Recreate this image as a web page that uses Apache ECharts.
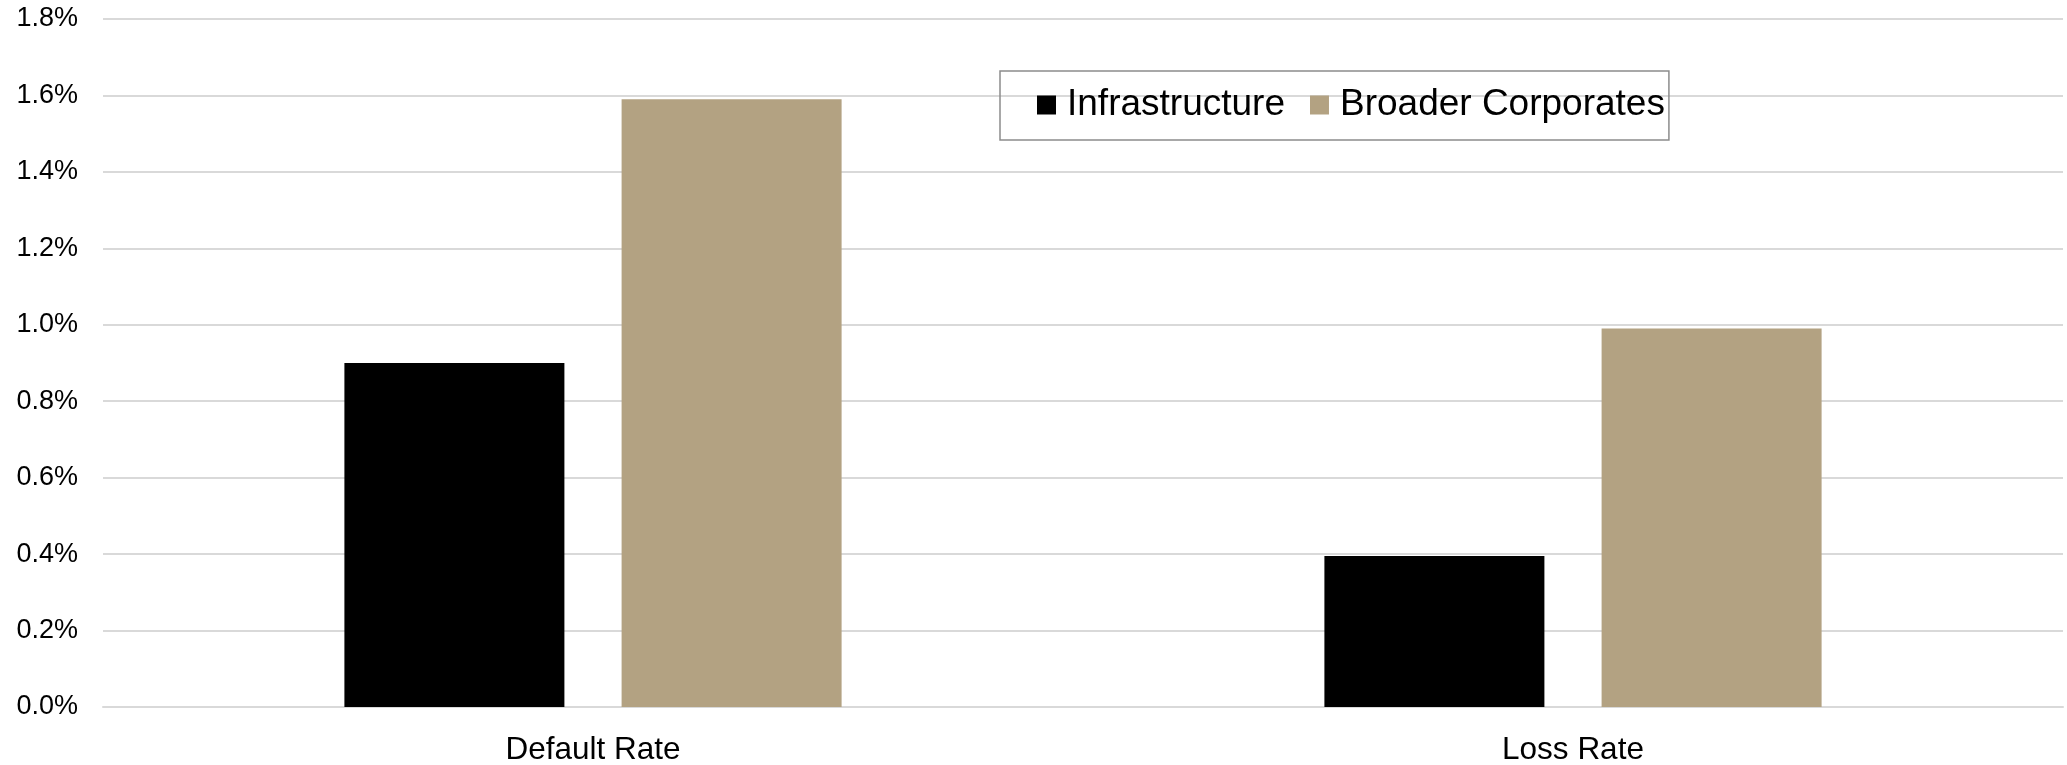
<!DOCTYPE html>
<html>
<head>
<meta charset="utf-8">
<script src="https://cdn.jsdelivr.net/npm/echarts@6/dist/echarts.min.js"></script>
<style>
  html, body { margin: 0; padding: 0; background: #fff; }
  #chart { width: 2067px; height: 765px; }
</style>
</head>
<body>
<div id="chart"></div>
<script>
var categories = ['Default Rate', 'Loss Rate'];
var infrastructure = [0.90, 0.395];
var broaderCorporates = [1.59, 0.99];

var font = '"Liberation Sans", Arial, sans-serif';

var opts = {
    animation: false,
    backgroundColor: '#fff',
    textStyle: { fontFamily: font },
    legend: {
        left: 1000,
        top: 71,
        padding: [13, 4, 14, 37],
        borderColor: '#8c8c8c',
        borderWidth: 1.5,
        itemWidth: 19,
        itemHeight: 19,
        itemGap: 25,
        icon: 'rect',
        textStyle: {
            fontFamily: font,
            fontSize: 37,
            color: '#000',
            lineHeight: 42,
            padding: [0, 0, 0, 6]
        },
        data: ['Infrastructure', 'Broader Corporates']
    },
    grid: {
        left: 103,
        right: 4,
        top: 19,
        bottom: 58,
        outerBoundsMode: 'none'
    },
    xAxis: [
        {
            type: 'category',
            data: categories,
            axisLine: { lineStyle: { color: '#d9d9d9', width: 2 } },
            axisTick: { show: false },
            axisLabel: {
                fontFamily: font,
                fontSize: 31.5,
                color: '#000',
                margin: 27
            }
        }
    ],
    yAxis: [
        {
            type: 'value',
            min: 0,
            max: 1.8,
            interval: 0.2,
            axisLine: { show: false },
            axisTick: { show: false },
            splitLine: { lineStyle: { color: '#d9d9d9', width: 2 } },
            axisLabel: {
                fontFamily: font,
                fontSize: 27,
                color: '#000',
                margin: 25,
                formatter: function (v) { return v.toFixed(1) + '%'; }
            }
        }
    ],
    series: [
        {
            name: 'Infrastructure',
            type: 'bar',
            data: infrastructure,
            barWidth: 220,
            barGap: '26%',
            itemStyle: { color: '#000000' }
        },
        {
            name: 'Broader Corporates',
            type: 'bar',
            data: broaderCorporates,
            barWidth: 220,
            itemStyle: { color: '#b3a282' }
        }
    ]
};

echarts.init(document.getElementById('chart')).setOption(opts);
</script>
</body>
</html>
